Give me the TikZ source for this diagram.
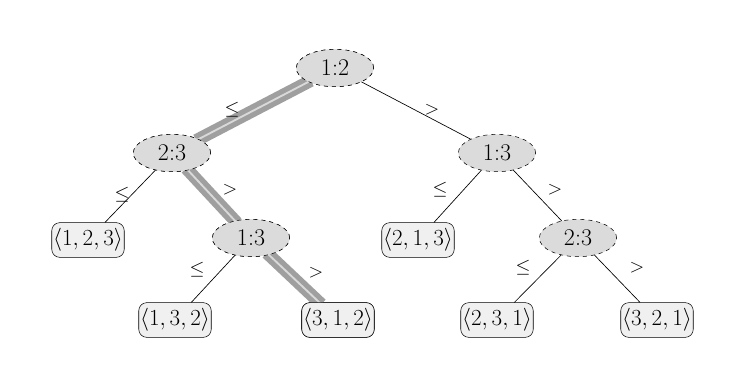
\documentclass[tikz,border=0pt]{standalone}
\usetikzlibrary{shapes.geometric}
\begin{document}
\begin{tikzpicture}[x=0.75pt,y=-0.75pt,
  cmp/.style={ellipse,draw,dashed,fill=gray!28,minimum width=58pt,minimum height=28pt,inner sep=0pt,font=\fontsize{18}{21}\selectfont},
  leaf/.style={rectangle,rounded corners=6pt,draw,fill=gray!12,minimum width=54pt,minimum height=26pt,inner sep=1pt,font=\fontsize{16.5}{19}\selectfont},
  edge/.style={draw,line width=0.5pt},
  hpath/.style={draw=gray!75,line width=4pt,double=gray!30,double distance=1.4pt,shorten <=-2pt,shorten >=-2pt},
  lab/.style={font=\fontsize{14}{16}\selectfont,inner sep=1pt}]
\useasboundingbox (0,0) rectangle (742,385);
\node[cmp] (r) at (335,68) {1:2};
\node[cmp] (a) at (172,153) {2:3};
\node[cmp] (b) at (497,153) {1:3};
\node[leaf] (l1) at (88,240) {$\langle 1,2,3\rangle$};
\node[cmp] (c) at (251,238) {1:3};
\node[leaf] (l3) at (418,240) {$\langle 2,1,3\rangle$};
\node[cmp] (d) at (578,238) {2:3};
\node[leaf] (l2) at (175,320) {$\langle 1,3,2\rangle$};
\node[leaf] (l4) at (338,320) {$\langle 3,1,2\rangle$};
\node[leaf] (l5) at (497,320) {$\langle 2,3,1\rangle$};
\node[leaf] (l6) at (657,320) {$\langle 3,2,1\rangle$};
\draw[hpath] (r) -- (a);
\draw[hpath] (a) -- (c);
\draw[hpath] (c) -- (l4);
\node[cmp] at (r) {1:2};
\node[cmp] at (a) {2:3};
\node[cmp] at (c) {1:3};
\node[leaf] at (l4) {$\langle 3,1,2\rangle$};
\draw[edge] (r) -- (b);
\draw[edge] (a) -- (l1);
\draw[edge] (b) -- (l3);
\draw[edge] (b) -- (d);
\draw[edge] (c) -- (l2);
\draw[edge] (d) -- (l5);
\draw[edge] (d) -- (l6);
\node[lab] (t1) at (232,110) {$\le$};
\node[lab] (t2) at (432,110) {$>$};
\node[lab] (t3) at (122,195) {$\le$};
\node[lab] (t4) at (230,190) {$>$};
\node[lab] (t5) at (197,270) {$\le$};
\node[lab] (t6) at (316,273) {$>$};
\node[lab] (t7) at (440,190) {$\le$};
\node[lab] (t8) at (555,190) {$>$};
\node[lab] (t9) at (523,268) {$\le$};
\node[lab] (t10) at (637,268) {$>$};
\end{tikzpicture}
\end{document}
